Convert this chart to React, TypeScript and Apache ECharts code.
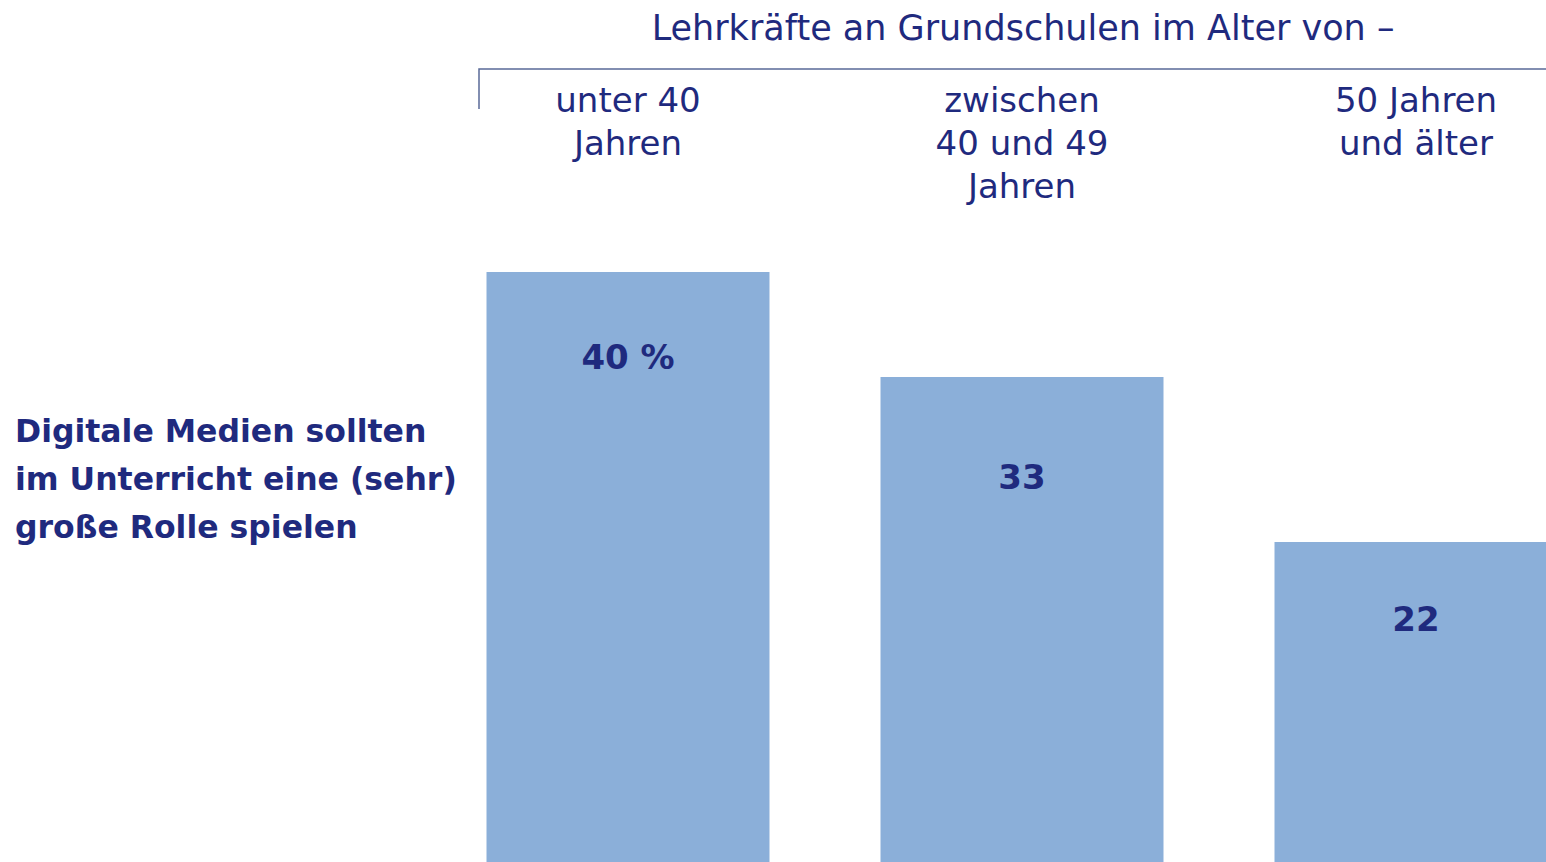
import React, { useEffect, useRef } from "react";
import * as echarts from "echarts";

const categories = ["unter 40\nJahren", "zwischen\n40 und 49\nJahren", "50 Jahren\nund älter"];
const values = [40, 33, 22];
const valueLabels = ["40 %", "33", "22"];
const labelDistances = [68, 83, 60];
const headerText = "Lehrkräfte an Grundschulen im Alter von –";
const rowLabel = "Digitale Medien sollten\nim Unterricht eine (sehr)\ngroße Rolle spielen";

const NAVY = "#1f2a7e";
const BAR = "#8bafd9";
const FONT = "DejaVu Sans";

export default function App() {
  const ref = useRef<HTMLDivElement>(null);
  useEffect(() => {
    document.body.style.margin = "0";
    const chart = echarts.init(ref.current!, null, { renderer: "svg" });
    chart.setOption({
      animation: false,
      backgroundColor: "#ffffff",
      grid: { left: 628, width: 788, top: 122, height: 740 },
      xAxis: {
        type: "category",
        position: "top",
        boundaryGap: false,
        data: categories,
        axisLine: { show: false },
        axisTick: { show: false },
        splitLine: { show: false },
        axisLabel: {
          margin: 44,
          verticalAlign: "top",
          interval: 0,
          fontFamily: FONT,
          fontSize: 34,
          lineHeight: 43,
          color: NAVY,
          align: "center",
        },
      },
      yAxis: {
        type: "value",
        min: 2 / 3,
        max: 50,
        show: false,
        splitLine: { show: false },
      },
      series: [
        {
          type: "bar",
          barWidth: 283,
          itemStyle: { color: BAR },
          data: values.map((v, i) => ({
            value: v,
            label: {
              show: true,
              position: "insideTop",
              distance: labelDistances[i],
              formatter: valueLabels[i],
              fontFamily: FONT,
              fontWeight: "bold",
              fontSize: 34,
              color: NAVY,
            },
          })),
        },
      ],
      graphic: [
        {
          type: "text",
          x: 1023,
          y: 28,
          style: {
            text: headerText,
            fontFamily: FONT,
            fontSize: 35,
            fill: NAVY,
            align: "center",
            verticalAlign: "middle",
          },
        },
        {
          type: "polyline",
          shape: { points: [[479, 109], [479, 69], [1546, 69]] },
          style: { stroke: "#5a6a98", lineWidth: 1.5, fill: null },
        },
        {
          type: "text",
          x: 15,
          y: 407,
          style: {
            text: rowLabel,
            fontFamily: FONT,
            fontWeight: "bold",
            fontSize: 31.5,
            lineHeight: 48,
            fill: NAVY,
            align: "left",
            verticalAlign: "top",
          },
        },
      ],
    });
    return () => chart.dispose();
  }, []);
  return <div ref={ref} style={{ width: 1546, height: 862 }} />;
}
